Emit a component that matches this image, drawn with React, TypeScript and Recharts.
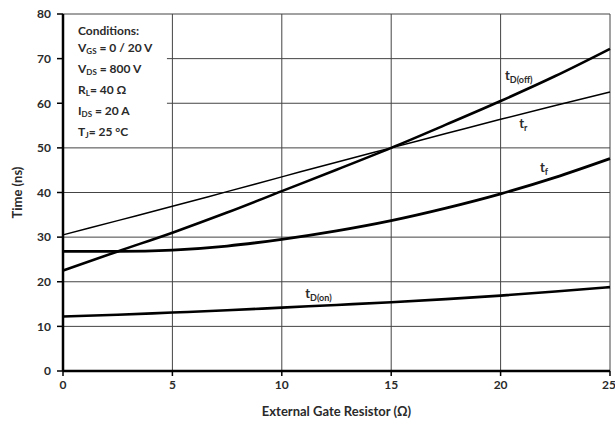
import React from 'react';
import {
  LineChart, Line, XAxis, YAxis, CartesianGrid, ReferenceArea, ReferenceDot, Label,
} from 'recharts';

const resistance = [0, 2.5, 5, 7.5, 10, 12.5, 15, 17.5, 20, 22.5, 25];
const tdOff = [22.5, 26.8, 31.0, 35.5, 40.3, 45.1, 50.0, 55.2, 60.5, 66.1, 72.2];
const tRise = [30.5, 33.7, 36.9, 40.2, 43.5, 46.8, 50.0, 53.2, 56.4, 59.5, 62.5];
const tFall = [26.8, 26.8, 27.1, 28.0, 29.5, 31.4, 33.7, 36.5, 39.7, 43.4, 47.6];
const tdOn = [12.2, 12.6, 13.1, 13.6, 14.2, 14.8, 15.4, 16.1, 16.9, 17.8, 18.8];

const xTicks = [0, 5, 10, 15, 20, 25];
const yTicks = [0, 10, 20, 30, 40, 50, 60, 70, 80];

const curveLabels = [
  { x: 20.2, y: 65.1, main: 't', sub: 'D(off)' },
  { x: 20.85, y: 54.4, main: 't', sub: 'r' },
  { x: 21.8, y: 44.5, main: 't', sub: 'f' },
  { x: 11.07, y: 16.3, main: 't', sub: 'D(on)' },
];

const conditions = [
  { main: 'Conditions:', sub: '', rest: '' },
  { main: 'V', sub: 'GS', rest: ' = 0 / 20 V' },
  { main: 'V', sub: 'DS', rest: ' = 800 V' },
  { main: 'R', sub: 'L', rest: '= 40 Ω' },
  { main: 'I', sub: 'DS', rest: ' = 20 A' },
  { main: 'T', sub: 'J', rest: '= 25 °C' },
];

const data = resistance.map((r, i) => ({
  r, tdOff: tdOff[i], tr: tRise[i], tf: tFall[i], tdOn: tdOn[i],
}));

const FONT = 'Lato, "Open Sans", sans-serif';
const TXT = '#2a2a2a';

const makeCurveLabel = (main: string, sub: string) => (props: any) => {
  const vb = props.viewBox || {};
  const x = vb.x ?? 0;
  const y = vb.y ?? 0;
  return (
    <text x={x} y={y} fontFamily={FONT} fontWeight={700} fill={TXT}>
      <tspan fontSize={13}>{main}</tspan>
      <tspan fontSize={9} dy={3}>{sub}</tspan>
    </text>
  );
};

const YLabel = (props: any) => {
  const vb = props.viewBox || {};
  const cy = vb.y + vb.height / 2;
  return (
    <text x={22} y={cy} transform={`rotate(-90, 22, ${cy})`} textAnchor="middle"
      fontFamily={FONT} fontWeight={700} fontSize={13} fill={TXT}>
      Time (ns)
    </text>
  );
};

export default function App() {
  return (
    <div style={{ position: 'absolute', left: 0, top: 0, width: 615, height: 424, background: '#fff' }}>
      <LineChart width={615} height={424} data={data}
        margin={{ top: 14, right: 5, left: 0, bottom: 0 }}>
        <CartesianGrid stroke="#444" strokeWidth={1} />
        <ReferenceArea x1={0} x2={4.75} y1={53} y2={79.7} fill="#fff" fillOpacity={1} stroke="none" />
        <XAxis dataKey="r" type="number" domain={[0, 25]} ticks={xTicks}
          axisLine={{ stroke: '#000', strokeWidth: 2.5 }} tickLine={{ stroke: '#000', strokeWidth: 1.5 }}
          tickSize={5} tickMargin={4} height={53}
          tick={{ fontFamily: FONT, fontWeight: 700, fontSize: 12, fill: TXT }}>
          <Label value="External Gate Resistor (Ω)" position="insideBottom" offset={8}
            style={{ fontFamily: FONT, fontWeight: 700, fontSize: 13, fill: TXT }} />
        </XAxis>
        <YAxis type="number" domain={[0, 80]} ticks={yTicks} width={63}
          axisLine={{ stroke: '#000', strokeWidth: 2.5 }} tickLine={{ stroke: '#000', strokeWidth: 1.5 }}
          tickSize={6} tickMargin={6}
          tick={{ fontFamily: FONT, fontWeight: 700, fontSize: 12, fill: TXT }}
          label={{ content: YLabel }} />
        <Line dataKey="tdOff" type="monotone" stroke="#000" strokeWidth={2.6} dot={false} isAnimationActive={false} />
        <Line dataKey="tr" type="monotone" stroke="#000" strokeWidth={1.5} dot={false} isAnimationActive={false} />
        <Line dataKey="tf" type="monotone" stroke="#000" strokeWidth={2.8} dot={false} isAnimationActive={false} />
        <Line dataKey="tdOn" type="monotone" stroke="#000" strokeWidth={2.6} dot={false} isAnimationActive={false} />
        {curveLabels.map((c, i) => (
          <ReferenceDot key={i} x={c.x} y={c.y} r={0} fill="none" stroke="none"
            label={{ content: makeCurveLabel(c.main, c.sub) }} />
        ))}
      </LineChart>
      <div style={{ position: 'absolute', left: 78, top: 22, fontFamily: FONT, fontWeight: 700,
        fontSize: 12, lineHeight: '17px', color: TXT }}>
        {conditions.map((c, i) => (
          <div key={i} style={{ whiteSpace: 'pre' }}>
            {c.main}
            {c.sub ? <sub style={{ fontSize: 8, verticalAlign: '-2px' }}>{c.sub}</sub> : null}
            {c.rest}
          </div>
        ))}
      </div>
    </div>
  );
}
